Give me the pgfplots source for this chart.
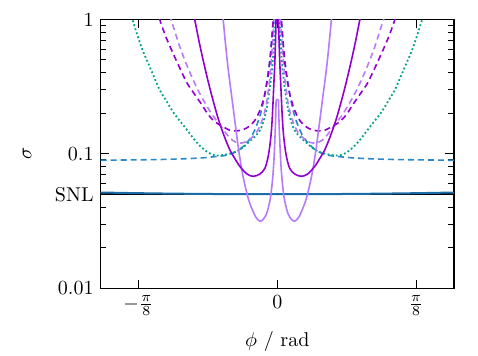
\documentclass[border=0pt]{standalone}
\usepackage{pgfplots}
\pgfplotsset{compat=1.18}
\usepackage{pgfplotstable}

\definecolor{violetA}{HTML}{9400D3}
\definecolor{violetB}{HTML}{B77BFA}
\definecolor{tealC}{HTML}{00A48A}
\definecolor{blueD}{HTML}{2A88CC}
\definecolor{blueE}{HTML}{1B6CA8}

% Phase uncertainty sigma(phi); only phi >= 0 is stored, curves are symmetric
\pgfplotstableread{
phi s
0.003 1.2
0.0035 1.0
0.005 0.70
0.007 0.48
0.010 0.32
0.014 0.19
0.018 0.135
0.025 0.098
0.035 0.078
0.050 0.0705
0.068 0.068
0.085 0.0705
0.105 0.080
0.120 0.092
0.135 0.108
0.150 0.135
0.165 0.175
0.180 0.24
0.195 0.34
0.210 0.50
0.222 0.70
0.232 0.95
0.240 1.2
}\solidA

\pgfplotstableread{
phi s
0 0.25
0.0032 0.25
0.004 0.21
0.005 0.17
0.007 0.125
0.010 0.085
0.014 0.062
0.020 0.046
0.030 0.036
0.040 0.0325
0.049 0.0315
0.060 0.0335
0.070 0.0380
0.080 0.0445
0.090 0.0560
0.100 0.075
0.110 0.11
0.120 0.175
0.130 0.28
0.140 0.45
0.148 0.72
0.154 1.05
0.160 1.4
}\solidB

\pgfplotstableread{
phi s
0.010 1.15
0.012 0.95
0.015 0.75
0.020 0.52
0.025 0.40
0.030 0.33
0.035 0.28
0.045 0.225
0.055 0.195
0.065 0.175
0.080 0.160
0.095 0.152
0.115 0.148
0.135 0.150
0.155 0.160
0.175 0.172
0.195 0.195
0.215 0.235
0.235 0.28
0.255 0.335
0.275 0.43
0.295 0.56
0.315 0.74
0.330 0.95
0.340 1.15
}\dashA

\pgfplotstableread{
phi s
0.008 1.2
0.010 0.95
0.013 0.70
0.017 0.50
0.021 0.37
0.026 0.29
0.031 0.235
0.038 0.195
0.045 0.172
0.055 0.150
0.065 0.138
0.078 0.128
0.092 0.122
0.106 0.120
0.120 0.123
0.134 0.131
0.150 0.148
0.167 0.170
0.185 0.197
0.205 0.24
0.225 0.30
0.245 0.39
0.262 0.50
0.278 0.65
0.292 0.85
0.302 1.02
0.310 1.2
}\dashB

\pgfplotstableread{
phi s
0.006 1.1
0.008 0.80
0.010 0.63
0.012 0.52
0.016 0.40
0.021 0.31
0.028 0.235
0.035 0.19
0.042 0.165
0.049 0.150
0.060 0.137
0.078 0.124
0.095 0.113
0.110 0.106
0.130 0.101
0.153 0.098
0.175 0.097
0.195 0.102
0.215 0.112
0.235 0.128
0.255 0.150
0.275 0.175
0.295 0.205
0.315 0.25
0.333 0.30
0.350 0.38
0.365 0.47
0.380 0.58
0.395 0.75
0.410 1.0
0.418 1.15
}\dotC

\pgfplotstableread{
phi s
0.010 1.15
0.012 0.95
0.015 0.75
0.020 0.53
0.025 0.42
0.030 0.34
0.035 0.28
0.040 0.24
0.047 0.20
0.055 0.172
0.065 0.148
0.075 0.132
0.090 0.118
0.110 0.106
0.130 0.100
0.150 0.097
0.180 0.095
0.220 0.093
0.280 0.0915
0.350 0.0905
0.420 0.0900
0.500 0.0895
}\dashD

\pgfplotstableread{
phi s
0 0.0500
0.1 0.05006
0.2 0.05024
0.3 0.05054
0.4 0.05096
0.5 0.0515
}\solidE

\begin{document}
\begin{tikzpicture}
\useasboundingbox (-50.3pt,-33.5pt) rectangle (188.7pt,144.05pt);
\begin{axis}[
  at={(0,0)}, anchor=south west,
  scale only axis, width=176.7pt, height=134.3pt,
  xmin=-0.5, xmax=0.5,
  ymode=log, ymin=0.01, ymax=1,
  xtick={-0.392699,0,0.392699},
  xticklabels={$-\frac{\pi}{8}$,$0$,$\frac{\pi}{8}$},
  ytick={0.01,0.1,1}, yticklabels={0.01,0.1,1},
  extra y ticks={0.05}, extra y tick labels={SNL},
  extra y tick style={major tick length=0pt},
  xlabel={$\phi$ / rad}, ylabel={$\sigma$},
  xlabel style={at={(axis description cs:0.5,-0.2)}, anchor=center},
  ylabel style={at={(axis description cs:-0.208,0.5)}, anchor=center},
  tick align=inside,
  axis line style={line width=0.6pt},
  every tick/.style={black, line width=0.5pt},
  clip=true,
]
% shot-noise limit
\addplot[black, line width=1pt] coordinates {(-0.5,0.05) (0.5,0.05)};
% blue solid
\addplot[blueE, line width=1pt, smooth] table[x=phi,y=s] {\solidE};
\addplot[blueE, line width=1pt, smooth] table[x expr=-\thisrow{phi},y=s] {\solidE};
% blue dashed
\addplot[blueD, line width=0.8pt, smooth, dash pattern=on 3pt off 2pt] table[x=phi,y=s] {\dashD};
\addplot[blueD, line width=0.8pt, smooth, dash pattern=on 3pt off 2pt] table[x expr=-\thisrow{phi},y=s] {\dashD};
% teal dotted
\addplot[tealC, line width=0.9pt, smooth, dash pattern=on 0.9pt off 1.2pt] table[x=phi,y=s] {\dotC};
\addplot[tealC, line width=0.9pt, smooth, dash pattern=on 0.9pt off 1.2pt] table[x expr=-\thisrow{phi},y=s] {\dotC};
% light violet dashed
\addplot[violetB, line width=0.8pt, smooth, dash pattern=on 3pt off 2pt] table[x=phi,y=s] {\dashB};
\addplot[violetB, line width=0.8pt, smooth, dash pattern=on 3pt off 2pt] table[x expr=-\thisrow{phi},y=s] {\dashB};
% violet dashed
\addplot[violetA, line width=0.8pt, smooth, dash pattern=on 3pt off 2pt] table[x=phi,y=s] {\dashA};
\addplot[violetA, line width=0.8pt, smooth, dash pattern=on 3pt off 2pt] table[x expr=-\thisrow{phi},y=s] {\dashA};
% light violet solid
\addplot[violetB, line width=0.8pt, smooth] table[x=phi,y=s] {\solidB};
\addplot[violetB, line width=0.8pt, smooth] table[x expr=-\thisrow{phi},y=s] {\solidB};
% violet solid
\addplot[violetA, line width=0.8pt, smooth] table[x=phi,y=s] {\solidA};
\addplot[violetA, line width=0.8pt, smooth] table[x expr=-\thisrow{phi},y=s] {\solidA};
\end{axis}
\end{tikzpicture}
\end{document}
